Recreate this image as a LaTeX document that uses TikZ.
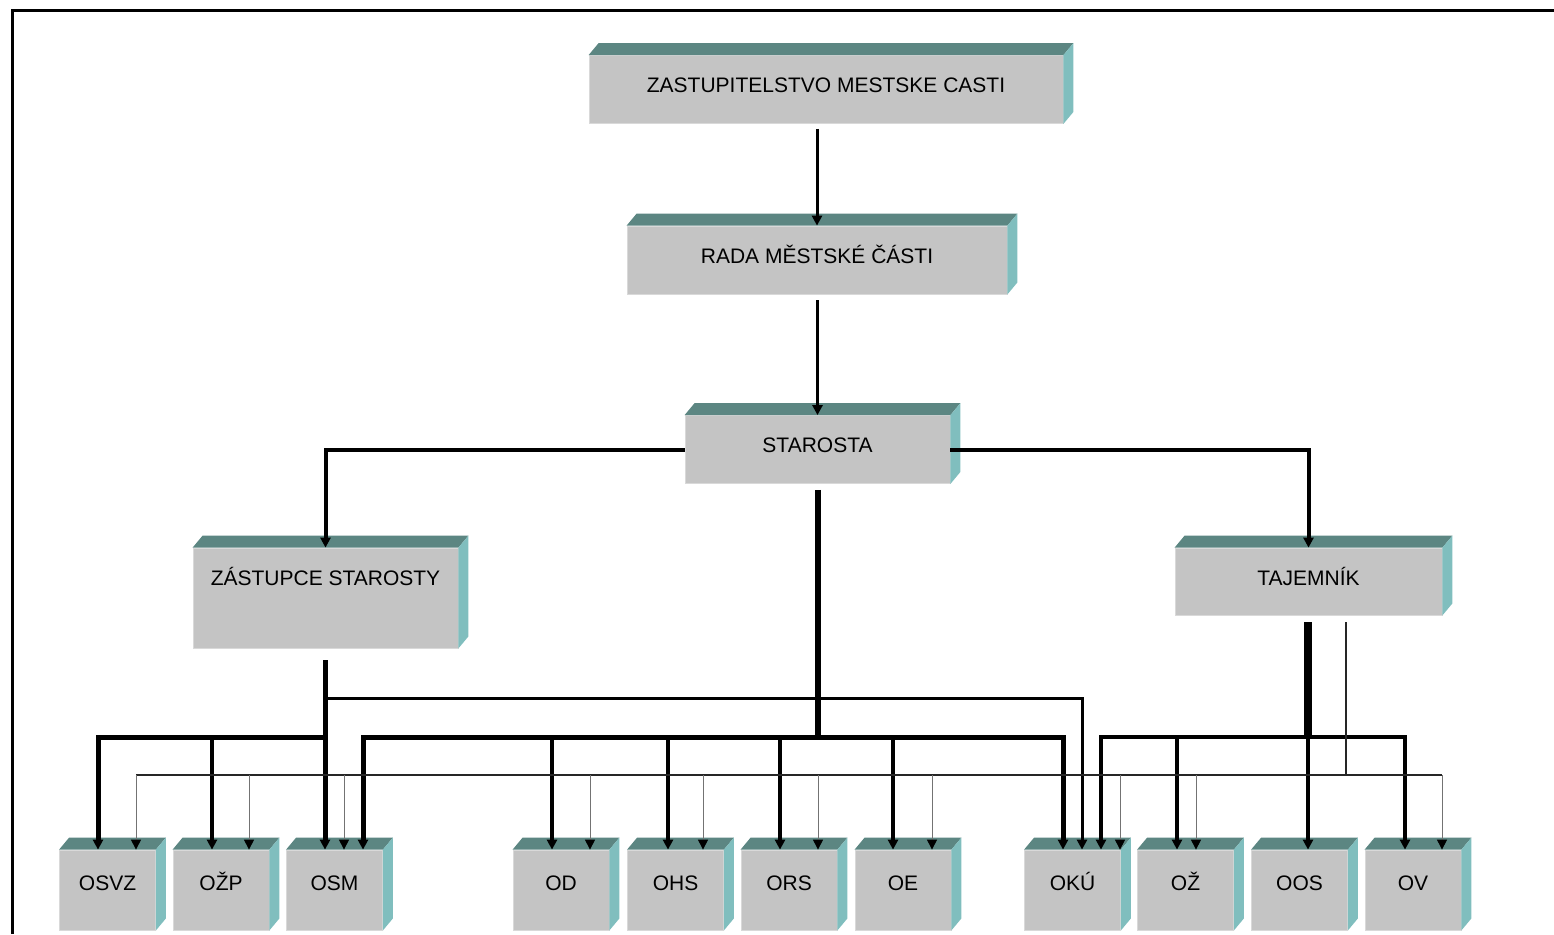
\documentclass[tikz,border=0pt]{standalone}
\usepackage{fontspec}
\setmainfont{Liberation Sans}
\usetikzlibrary{arrows.meta}

\definecolor{frontgrey}{RGB}{196,196,196}
\definecolor{topteal}{RGB}{92,134,130}
\definecolor{sideteal}{RGB}{128,190,190}

\begin{document}
\begin{tikzpicture}[
  x=0.5pt, y=-0.5pt,
  office/.style={rectangle, fill=frontgrey, draw=gray!30, line width=0.4pt, inner sep=0pt,
    minimum height=34pt, text height=8pt, text depth=5pt, font=\fontsize{10.5}{12}\selectfont},
  dept/.style={office, minimum width=48pt, minimum height=40pt, text depth=8pt},
  topface/.style={fill=topteal},
  sideface/.style={fill=sideteal},
  arrow/.style={-{Triangle[width=5pt,length=5pt]}, line width=1.5pt},
  sidelink/.style={-{Triangle[width=5pt,length=5pt]}, line width=2pt},
  drop/.style={-{Triangle[width=5pt,length=5pt]}, line width=2pt},
  trunk/.style={line width=3pt},
  thinline/.style={line width=0.7pt, black!85},
  thindrop/.style={-{Triangle[width=5pt,length=5pt,color=black]}, line width=0.5pt, black!55}
]
\useasboundingbox (0,0) rectangle (1554,934);

% Frame
\draw[line width=1.5pt] (12,934) -- (12,10) -- (1554,10);

% Offices
\node[office, minimum width=237pt] (zast) at (826,89.5) {ZASTUPITELSTVO MESTSKE CASTI};
\node[office, minimum width=190pt] (rada) at (817,260) {RADA MĚSTSKÉ ČÁSTI};
\node[office, minimum width=132.5pt] (star) at (817.5,449.5) {STAROSTA};
\node[office, minimum width=132.5pt, minimum height=50pt, text depth=21pt] (zst) at (325.5,598) {ZÁSTUPCE STAROSTY};
\node[office, minimum width=133.5pt, minimum height=33.5pt, text depth=4.5pt] (taj) at (1308.5,581.5) {TAJEMNÍK};

% Departments
\foreach \n/\t/\x in {osvz/OSVZ/107.5, ozp/OŽP/221, osm/OSM/334.5, od/OD/561, ohs/OHS/675.5,
    ors/ORS/789, oe/OE/903, oku/OKÚ/1072.5, oz/OŽ/1185.5, oos/OOS/1299.5, ov/OV/1413}
  \node[dept] (\n) at (\x,890) {\t};

% Box faces
\foreach \n in {zast,rada,star,zst,taj,osvz,ozp,osm,od,ohs,ors,oe,oku,oz,oos,ov} {
  \fill[topface] (\n.north west) -- ++(10,-12) -- ([shift={(10,-12)}]\n.north east) -- (\n.north east) -- cycle;
  \fill[sideface] (\n.north east) -- ++(10,-12) -- ([shift={(10,-12)}]\n.south east) -- (\n.south east) -- cycle;
}

% Bus points
\coordinate (zfork) at (325,698);
\coordinate (zbus) at (325,737);
\coordinate (sbus) at (818,737);
\coordinate (tbus) at (1308,737);
\coordinate (tfork) at (1346,775);

% Top chain
\draw[arrow, shorten <=2.5pt] (rada.north |- zast.south) -- (rada.north);
\draw[arrow, shorten <=3pt] (star.north |- rada.south) -- (star.north);
\draw[sidelink] (star.west) -| (zst.north);
\draw[sidelink] (star.east) -| (taj.north);

% Starosta to departments
\draw[trunk, shorten <=3pt] (star.south -| sbus) -- (sbus);
\draw[drop, {Triangle[width=5pt,length=5pt]}-{Triangle[width=5pt,length=5pt]}, line width=2.5pt]
  (osm.north -| 363,0) |- (sbus) -| (oku.north -| 1063,0);
\foreach \b/\x in {od/552, ohs/668, ors/780, oe/893}
  \draw[drop] (sbus -| \x,0) -- (\b.north -| \x,0);

% Zastupce to departments
\draw[drop, line width=2.5pt, shorten <=6pt] (zst.south -| zbus) -- (osm.north -| zbus);
\draw[drop, line width=2.5pt] (zbus) -| (osvz.north -| 98,0);
\draw[drop] (zbus -| 212,0) -- (ozp.north -| 212,0);
\draw[arrow] (zfork) -| (oku.north -| 1082,0);

% Tajemnik to departments
\draw[trunk, line width=4pt, shorten <=3.5pt] (taj.south -| tbus) -- (tbus);
\draw[drop] (tbus) -- (oos.north -| tbus);
\draw[drop, {Triangle[width=5pt,length=5pt]}-{Triangle[width=5pt,length=5pt]}]
  (oku.north -| 1101,0) |- (tbus) -| (ov.north -| 1405,0);
\draw[drop] (tbus -| 1177,0) -- (oz.north -| 1177,0);

% Thin lines
\draw[thinline, shorten <=3.5pt] (taj.south -| tfork) -- (tfork);
\draw[thinline] (tfork -| 136,0) -- (tfork -| 1442,0);
\foreach \b/\x in {osvz/136, ozp/249, osm/344, od/590, ohs/703, ors/818, oe/932, oku/1120, oz/1196, ov/1442}
  \draw[thindrop] (tfork -| \x,0) -- (\b.north -| \x,0);

\end{tikzpicture}
\end{document}
